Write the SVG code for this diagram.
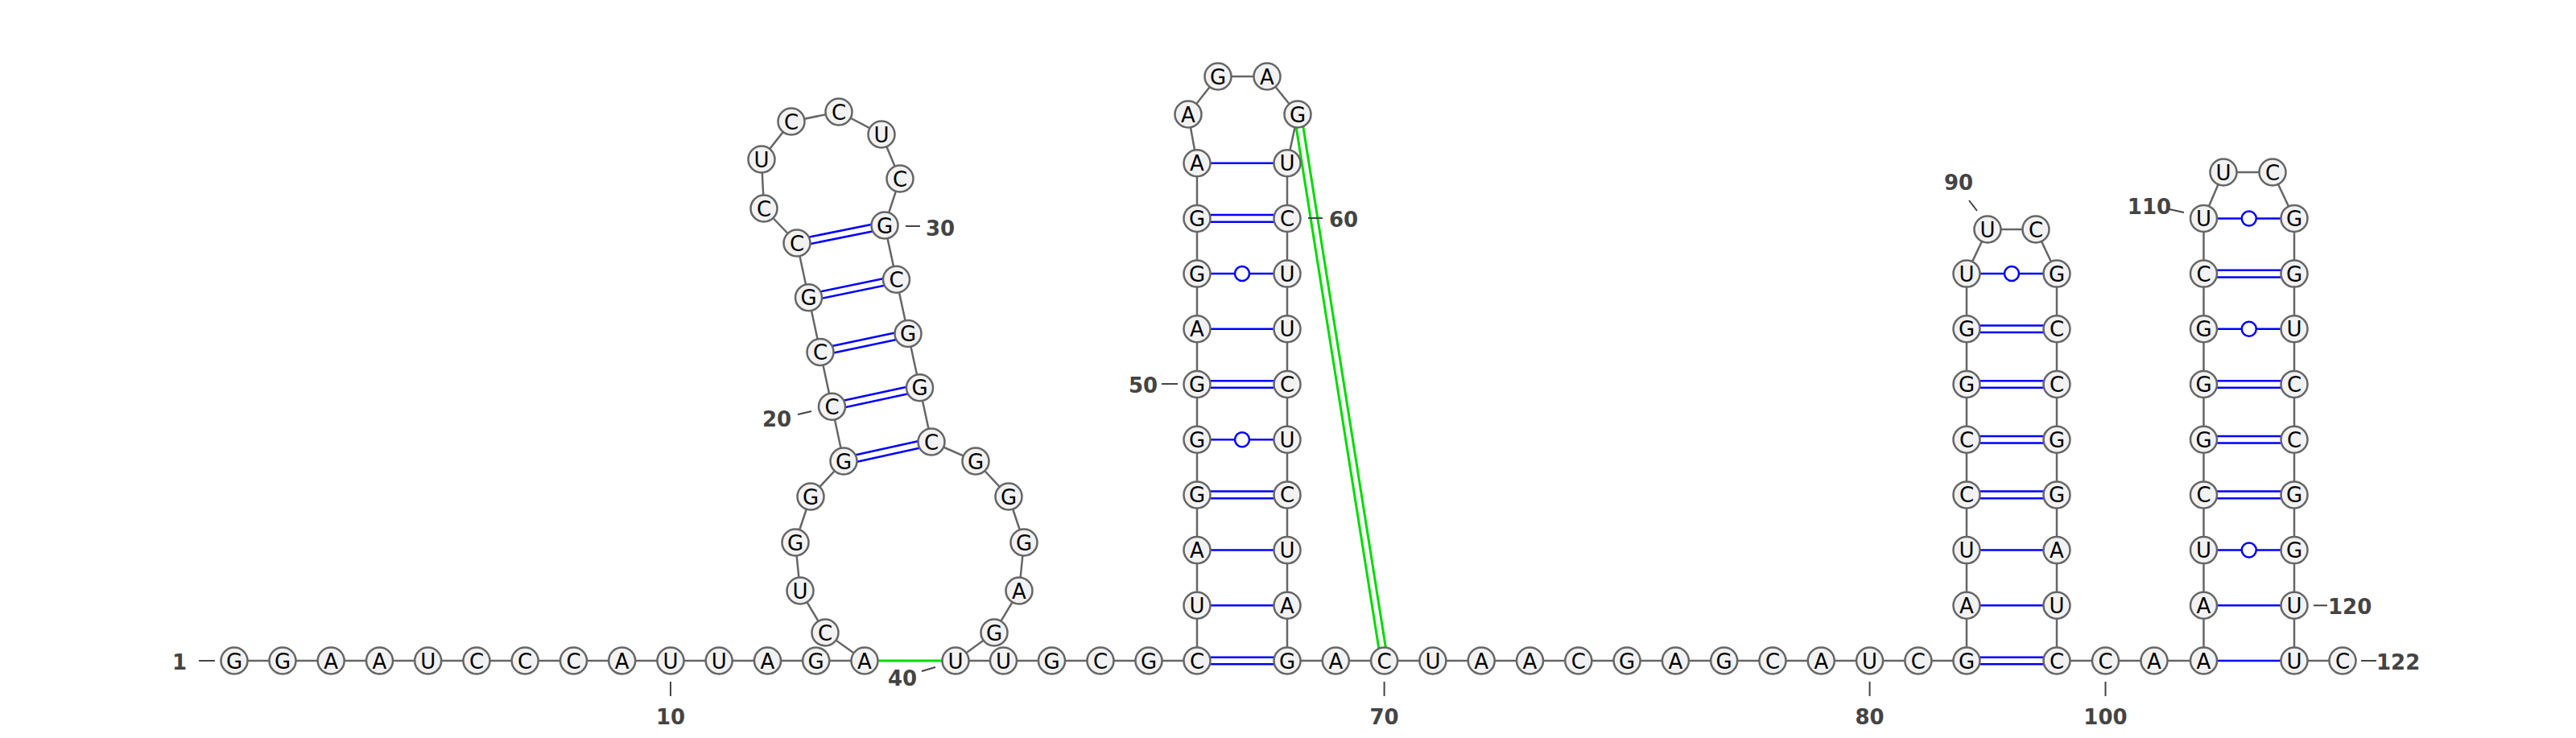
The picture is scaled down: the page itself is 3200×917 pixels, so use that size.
<svg xmlns="http://www.w3.org/2000/svg" width="3200" height="917" viewBox="0 0 3200 917">
<style>
.nt circle{fill:#f2f2f2;stroke:#666;stroke-width:2.5}
.nt text{font-family:"DejaVu Sans","Liberation Sans",sans-serif;font-size:26px;text-anchor:middle;fill:#000}
.bb{fill:none;stroke:#666;stroke-width:2.5}
.bp{fill:none;stroke:#0000ff;stroke-width:2.5}
.wb{fill:#fff;stroke:#0000ff;stroke-width:2.5}
.tp{fill:none;stroke:#00dd00;stroke-width:3}
.lbl{font-family:"DejaVu Sans","Liberation Sans",sans-serif;font-weight:bold;font-size:26px;fill:#444}
.tick{stroke:#444;stroke-width:2}
</style>
<rect width="3200" height="917" fill="#fff"/>
<g id="connectors">
<path class="bb" d="M291,821 L351,821 L411.2,821 L471.5,821 L531.7,821 L592,821 L652.2,821 L712.5,821 L772.7,821 L833,821 L893.2,821 L953.5,821 L1013.7,821 L1074,821 L1025,786 L994,734 L988,674 L1007,617 L1048,573 L1033.5,505.25 L1019,437.5 L1004.5,369.75 L990,302 L949,259 L946,198 L983,151 L1042,139 L1095,167 L1118,222 L1099,280 L1113.5,347.25 L1128,414.5 L1142.5,481.75 L1157,549 L1212,573 L1253,617 L1272,674 L1266,734 L1235,786 L1187,821 L1246.5,821 L1306.5,821 L1367,821 L1427,821 L1487,821 L1487,202.7 L1476,142 L1513,95 L1574,95 L1612,142 L1599,202.7 L1599,821 L2443,821 L2443,340.1 L2469,285 L2529,285 L2555,340.1 L2555,821 L2737.5,821 L2737.5,271.4 L2762,214 L2823,214 L2850,271.4 L2850,821 L2910,821"/>
<g id="pairs">
<line class="bp" x1="1048.9" y1="577.2" x2="1157.9" y2="553.2"/><line class="bp" x1="1047.1" y1="568.8" x2="1156.1" y2="544.8"/>
<line class="bp" x1="1034.4" y1="509.45" x2="1143.4" y2="485.95"/><line class="bp" x1="1032.6" y1="501.05" x2="1141.6" y2="477.55"/>
<line class="bp" x1="1019.9" y1="441.7" x2="1128.9" y2="418.7"/><line class="bp" x1="1018.1" y1="433.3" x2="1127.1" y2="410.3"/>
<line class="bp" x1="1005.4" y1="373.95" x2="1114.4" y2="351.45"/><line class="bp" x1="1003.6" y1="365.55" x2="1112.6" y2="343.05"/>
<line class="bp" x1="990.9" y1="306.2" x2="1099.9" y2="284.2"/><line class="bp" x1="989.1" y1="297.8" x2="1098.1" y2="275.8"/>
<path class="bp" d="M1487,816.7H1599M1487,825.3H1599 M1487,752.3H1599 M1487,683.6H1599 M1487,610.6H1599M1487,619.2H1599 M1487,546.2H1599 M1487,473.2H1599M1487,481.8H1599 M1487,408.8H1599 M1487,340.1H1599 M1487,267.1H1599M1487,275.7H1599 M1487,202.7H1599"/>
<circle class="wb" cx="1543" cy="546.2" r="9"/>
<circle class="wb" cx="1543" cy="340.1" r="9"/>
<path class="bp" d="M2443,816.7H2555M2443,825.3H2555 M2443,752.3H2555 M2443,683.6H2555 M2443,610.6H2555M2443,619.2H2555 M2443,541.9H2555M2443,550.5H2555 M2443,473.2H2555M2443,481.8H2555 M2443,404.5H2555M2443,413.1H2555 M2443,340.1H2555"/>
<circle class="wb" cx="2499" cy="340.1" r="9"/>
<path class="bp" d="M2737.5,821H2850 M2737.5,752.3H2850 M2737.5,683.6H2850 M2737.5,610.6H2850M2737.5,619.2H2850 M2737.5,541.9H2850M2737.5,550.5H2850 M2737.5,473.2H2850M2737.5,481.8H2850 M2737.5,408.8H2850 M2737.5,335.8H2850M2737.5,344.4H2850 M2737.5,271.4H2850"/>
<circle class="wb" cx="2793.75" cy="683.6" r="9"/>
<circle class="wb" cx="2793.75" cy="408.8" r="9"/>
<circle class="wb" cx="2793.75" cy="271.4" r="9"/>
</g>
<g id="tertiary">
<line class="tp" x1="1074" y1="821" x2="1187" y2="821"/>
<line class="tp" x1="1616.25" y1="141.33" x2="1723.85" y2="820.33"/>
<line class="tp" x1="1607.75" y1="142.67" x2="1715.35" y2="821.67"/>
</g>
</g>
<g id="n1" class="nt"><circle cx="291" cy="821" r="16.5"/><text x="291" y="830.5">G</text></g>
<g id="n2" class="nt"><circle cx="351" cy="821" r="16.5"/><text x="351" y="830.5">G</text></g>
<g id="n3" class="nt"><circle cx="411.2" cy="821" r="16.5"/><text x="411.2" y="830.5">A</text></g>
<g id="n4" class="nt"><circle cx="471.5" cy="821" r="16.5"/><text x="471.5" y="830.5">A</text></g>
<g id="n5" class="nt"><circle cx="531.7" cy="821" r="16.5"/><text x="531.7" y="830.5">U</text></g>
<g id="n6" class="nt"><circle cx="592" cy="821" r="16.5"/><text x="592" y="830.5">C</text></g>
<g id="n7" class="nt"><circle cx="652.2" cy="821" r="16.5"/><text x="652.2" y="830.5">C</text></g>
<g id="n8" class="nt"><circle cx="712.5" cy="821" r="16.5"/><text x="712.5" y="830.5">C</text></g>
<g id="n9" class="nt"><circle cx="772.7" cy="821" r="16.5"/><text x="772.7" y="830.5">A</text></g>
<g id="n10" class="nt"><circle cx="833" cy="821" r="16.5"/><text x="833" y="830.5">U</text></g>
<g id="n11" class="nt"><circle cx="893.2" cy="821" r="16.5"/><text x="893.2" y="830.5">U</text></g>
<g id="n12" class="nt"><circle cx="953.5" cy="821" r="16.5"/><text x="953.5" y="830.5">A</text></g>
<g id="n13" class="nt"><circle cx="1013.7" cy="821" r="16.5"/><text x="1013.7" y="830.5">G</text></g>
<g id="n14" class="nt"><circle cx="1074" cy="821" r="16.5"/><text x="1074" y="830.5">A</text></g>
<g id="n15" class="nt"><circle cx="1025" cy="786" r="16.5"/><text x="1025" y="795.5">C</text></g>
<g id="n16" class="nt"><circle cx="994" cy="734" r="16.5"/><text x="994" y="743.5">U</text></g>
<g id="n17" class="nt"><circle cx="988" cy="674" r="16.5"/><text x="988" y="683.5">G</text></g>
<g id="n18" class="nt"><circle cx="1007" cy="617" r="16.5"/><text x="1007" y="626.5">G</text></g>
<g id="n19" class="nt"><circle cx="1048" cy="573" r="16.5"/><text x="1048" y="582.5">G</text></g>
<g id="n20" class="nt"><circle cx="1033.5" cy="505.25" r="16.5"/><text x="1033.5" y="514.75">C</text></g>
<g id="n21" class="nt"><circle cx="1019" cy="437.5" r="16.5"/><text x="1019" y="447">C</text></g>
<g id="n22" class="nt"><circle cx="1004.5" cy="369.75" r="16.5"/><text x="1004.5" y="379.25">G</text></g>
<g id="n23" class="nt"><circle cx="990" cy="302" r="16.5"/><text x="990" y="311.5">C</text></g>
<g id="n24" class="nt"><circle cx="949" cy="259" r="16.5"/><text x="949" y="268.5">C</text></g>
<g id="n25" class="nt"><circle cx="946" cy="198" r="16.5"/><text x="946" y="207.5">U</text></g>
<g id="n26" class="nt"><circle cx="983" cy="151" r="16.5"/><text x="983" y="160.5">C</text></g>
<g id="n27" class="nt"><circle cx="1042" cy="139" r="16.5"/><text x="1042" y="148.5">C</text></g>
<g id="n28" class="nt"><circle cx="1095" cy="167" r="16.5"/><text x="1095" y="176.5">U</text></g>
<g id="n29" class="nt"><circle cx="1118" cy="222" r="16.5"/><text x="1118" y="231.5">C</text></g>
<g id="n30" class="nt"><circle cx="1099" cy="280" r="16.5"/><text x="1099" y="289.5">G</text></g>
<g id="n31" class="nt"><circle cx="1113.5" cy="347.25" r="16.5"/><text x="1113.5" y="356.75">C</text></g>
<g id="n32" class="nt"><circle cx="1128" cy="414.5" r="16.5"/><text x="1128" y="424">G</text></g>
<g id="n33" class="nt"><circle cx="1142.5" cy="481.75" r="16.5"/><text x="1142.5" y="491.25">G</text></g>
<g id="n34" class="nt"><circle cx="1157" cy="549" r="16.5"/><text x="1157" y="558.5">C</text></g>
<g id="n35" class="nt"><circle cx="1212" cy="573" r="16.5"/><text x="1212" y="582.5">G</text></g>
<g id="n36" class="nt"><circle cx="1253" cy="617" r="16.5"/><text x="1253" y="626.5">G</text></g>
<g id="n37" class="nt"><circle cx="1272" cy="674" r="16.5"/><text x="1272" y="683.5">G</text></g>
<g id="n38" class="nt"><circle cx="1266" cy="734" r="16.5"/><text x="1266" y="743.5">A</text></g>
<g id="n39" class="nt"><circle cx="1235" cy="786" r="16.5"/><text x="1235" y="795.5">G</text></g>
<g id="n40" class="nt"><circle cx="1187" cy="821" r="16.5"/><text x="1187" y="830.5">U</text></g>
<g id="n41" class="nt"><circle cx="1246.5" cy="821" r="16.5"/><text x="1246.5" y="830.5">U</text></g>
<g id="n42" class="nt"><circle cx="1306.5" cy="821" r="16.5"/><text x="1306.5" y="830.5">G</text></g>
<g id="n43" class="nt"><circle cx="1367" cy="821" r="16.5"/><text x="1367" y="830.5">C</text></g>
<g id="n44" class="nt"><circle cx="1427" cy="821" r="16.5"/><text x="1427" y="830.5">G</text></g>
<g id="n45" class="nt"><circle cx="1487" cy="821" r="16.5"/><text x="1487" y="830.5">C</text></g>
<g id="n46" class="nt"><circle cx="1487" cy="752.3" r="16.5"/><text x="1487" y="761.8">U</text></g>
<g id="n47" class="nt"><circle cx="1487" cy="683.6" r="16.5"/><text x="1487" y="693.1">A</text></g>
<g id="n48" class="nt"><circle cx="1487" cy="614.9" r="16.5"/><text x="1487" y="624.4">G</text></g>
<g id="n49" class="nt"><circle cx="1487" cy="546.2" r="16.5"/><text x="1487" y="555.7">G</text></g>
<g id="n50" class="nt"><circle cx="1487" cy="477.5" r="16.5"/><text x="1487" y="487">G</text></g>
<g id="n51" class="nt"><circle cx="1487" cy="408.8" r="16.5"/><text x="1487" y="418.3">A</text></g>
<g id="n52" class="nt"><circle cx="1487" cy="340.1" r="16.5"/><text x="1487" y="349.6">G</text></g>
<g id="n53" class="nt"><circle cx="1487" cy="271.4" r="16.5"/><text x="1487" y="280.9">G</text></g>
<g id="n54" class="nt"><circle cx="1487" cy="202.7" r="16.5"/><text x="1487" y="212.2">A</text></g>
<g id="n55" class="nt"><circle cx="1476" cy="142" r="16.5"/><text x="1476" y="151.5">A</text></g>
<g id="n56" class="nt"><circle cx="1513" cy="95" r="16.5"/><text x="1513" y="104.5">G</text></g>
<g id="n57" class="nt"><circle cx="1574" cy="95" r="16.5"/><text x="1574" y="104.5">A</text></g>
<g id="n58" class="nt"><circle cx="1612" cy="142" r="16.5"/><text x="1612" y="151.5">G</text></g>
<g id="n59" class="nt"><circle cx="1599" cy="202.7" r="16.5"/><text x="1599" y="212.2">U</text></g>
<g id="n60" class="nt"><circle cx="1599" cy="271.4" r="16.5"/><text x="1599" y="280.9">C</text></g>
<g id="n61" class="nt"><circle cx="1599" cy="340.1" r="16.5"/><text x="1599" y="349.6">U</text></g>
<g id="n62" class="nt"><circle cx="1599" cy="408.8" r="16.5"/><text x="1599" y="418.3">U</text></g>
<g id="n63" class="nt"><circle cx="1599" cy="477.5" r="16.5"/><text x="1599" y="487">C</text></g>
<g id="n64" class="nt"><circle cx="1599" cy="546.2" r="16.5"/><text x="1599" y="555.7">U</text></g>
<g id="n65" class="nt"><circle cx="1599" cy="614.9" r="16.5"/><text x="1599" y="624.4">C</text></g>
<g id="n66" class="nt"><circle cx="1599" cy="683.6" r="16.5"/><text x="1599" y="693.1">U</text></g>
<g id="n67" class="nt"><circle cx="1599" cy="752.3" r="16.5"/><text x="1599" y="761.8">A</text></g>
<g id="n68" class="nt"><circle cx="1599" cy="821" r="16.5"/><text x="1599" y="830.5">G</text></g>
<g id="n69" class="nt"><circle cx="1659.3" cy="821" r="16.5"/><text x="1659.3" y="830.5">A</text></g>
<g id="n70" class="nt"><circle cx="1719.6" cy="821" r="16.5"/><text x="1719.6" y="830.5">C</text></g>
<g id="n71" class="nt"><circle cx="1779.9" cy="821" r="16.5"/><text x="1779.9" y="830.5">U</text></g>
<g id="n72" class="nt"><circle cx="1840.2" cy="821" r="16.5"/><text x="1840.2" y="830.5">A</text></g>
<g id="n73" class="nt"><circle cx="1900.5" cy="821" r="16.5"/><text x="1900.5" y="830.5">A</text></g>
<g id="n74" class="nt"><circle cx="1960.8" cy="821" r="16.5"/><text x="1960.8" y="830.5">C</text></g>
<g id="n75" class="nt"><circle cx="2021.1" cy="821" r="16.5"/><text x="2021.1" y="830.5">G</text></g>
<g id="n76" class="nt"><circle cx="2081.4" cy="821" r="16.5"/><text x="2081.4" y="830.5">A</text></g>
<g id="n77" class="nt"><circle cx="2141.7" cy="821" r="16.5"/><text x="2141.7" y="830.5">G</text></g>
<g id="n78" class="nt"><circle cx="2202" cy="821" r="16.5"/><text x="2202" y="830.5">C</text></g>
<g id="n79" class="nt"><circle cx="2262.3" cy="821" r="16.5"/><text x="2262.3" y="830.5">A</text></g>
<g id="n80" class="nt"><circle cx="2322.6" cy="821" r="16.5"/><text x="2322.6" y="830.5">U</text></g>
<g id="n81" class="nt"><circle cx="2382.9" cy="821" r="16.5"/><text x="2382.9" y="830.5">C</text></g>
<g id="n82" class="nt"><circle cx="2443" cy="821" r="16.5"/><text x="2443" y="830.5">G</text></g>
<g id="n83" class="nt"><circle cx="2443" cy="752.3" r="16.5"/><text x="2443" y="761.8">A</text></g>
<g id="n84" class="nt"><circle cx="2443" cy="683.6" r="16.5"/><text x="2443" y="693.1">U</text></g>
<g id="n85" class="nt"><circle cx="2443" cy="614.9" r="16.5"/><text x="2443" y="624.4">C</text></g>
<g id="n86" class="nt"><circle cx="2443" cy="546.2" r="16.5"/><text x="2443" y="555.7">C</text></g>
<g id="n87" class="nt"><circle cx="2443" cy="477.5" r="16.5"/><text x="2443" y="487">G</text></g>
<g id="n88" class="nt"><circle cx="2443" cy="408.8" r="16.5"/><text x="2443" y="418.3">G</text></g>
<g id="n89" class="nt"><circle cx="2443" cy="340.1" r="16.5"/><text x="2443" y="349.6">U</text></g>
<g id="n90" class="nt"><circle cx="2469" cy="285" r="16.5"/><text x="2469" y="294.5">U</text></g>
<g id="n91" class="nt"><circle cx="2529" cy="285" r="16.5"/><text x="2529" y="294.5">C</text></g>
<g id="n92" class="nt"><circle cx="2555" cy="340.1" r="16.5"/><text x="2555" y="349.6">G</text></g>
<g id="n93" class="nt"><circle cx="2555" cy="408.8" r="16.5"/><text x="2555" y="418.3">C</text></g>
<g id="n94" class="nt"><circle cx="2555" cy="477.5" r="16.5"/><text x="2555" y="487">C</text></g>
<g id="n95" class="nt"><circle cx="2555" cy="546.2" r="16.5"/><text x="2555" y="555.7">G</text></g>
<g id="n96" class="nt"><circle cx="2555" cy="614.9" r="16.5"/><text x="2555" y="624.4">G</text></g>
<g id="n97" class="nt"><circle cx="2555" cy="683.6" r="16.5"/><text x="2555" y="693.1">A</text></g>
<g id="n98" class="nt"><circle cx="2555" cy="752.3" r="16.5"/><text x="2555" y="761.8">U</text></g>
<g id="n99" class="nt"><circle cx="2555" cy="821" r="16.5"/><text x="2555" y="830.5">C</text></g>
<g id="n100" class="nt"><circle cx="2615.5" cy="821" r="16.5"/><text x="2615.5" y="830.5">C</text></g>
<g id="n101" class="nt"><circle cx="2676" cy="821" r="16.5"/><text x="2676" y="830.5">A</text></g>
<g id="n102" class="nt"><circle cx="2737.5" cy="821" r="16.5"/><text x="2737.5" y="830.5">A</text></g>
<g id="n103" class="nt"><circle cx="2737.5" cy="752.3" r="16.5"/><text x="2737.5" y="761.8">A</text></g>
<g id="n104" class="nt"><circle cx="2737.5" cy="683.6" r="16.5"/><text x="2737.5" y="693.1">U</text></g>
<g id="n105" class="nt"><circle cx="2737.5" cy="614.9" r="16.5"/><text x="2737.5" y="624.4">C</text></g>
<g id="n106" class="nt"><circle cx="2737.5" cy="546.2" r="16.5"/><text x="2737.5" y="555.7">G</text></g>
<g id="n107" class="nt"><circle cx="2737.5" cy="477.5" r="16.5"/><text x="2737.5" y="487">G</text></g>
<g id="n108" class="nt"><circle cx="2737.5" cy="408.8" r="16.5"/><text x="2737.5" y="418.3">G</text></g>
<g id="n109" class="nt"><circle cx="2737.5" cy="340.1" r="16.5"/><text x="2737.5" y="349.6">C</text></g>
<g id="n110" class="nt"><circle cx="2737.5" cy="271.4" r="16.5"/><text x="2737.5" y="280.9">U</text></g>
<g id="n111" class="nt"><circle cx="2762" cy="214" r="16.5"/><text x="2762" y="223.5">U</text></g>
<g id="n112" class="nt"><circle cx="2823" cy="214" r="16.5"/><text x="2823" y="223.5">C</text></g>
<g id="n113" class="nt"><circle cx="2850" cy="271.4" r="16.5"/><text x="2850" y="280.9">G</text></g>
<g id="n114" class="nt"><circle cx="2850" cy="340.1" r="16.5"/><text x="2850" y="349.6">G</text></g>
<g id="n115" class="nt"><circle cx="2850" cy="408.8" r="16.5"/><text x="2850" y="418.3">U</text></g>
<g id="n116" class="nt"><circle cx="2850" cy="477.5" r="16.5"/><text x="2850" y="487">C</text></g>
<g id="n117" class="nt"><circle cx="2850" cy="546.2" r="16.5"/><text x="2850" y="555.7">C</text></g>
<g id="n118" class="nt"><circle cx="2850" cy="614.9" r="16.5"/><text x="2850" y="624.4">G</text></g>
<g id="n119" class="nt"><circle cx="2850" cy="683.6" r="16.5"/><text x="2850" y="693.1">G</text></g>
<g id="n120" class="nt"><circle cx="2850" cy="752.3" r="16.5"/><text x="2850" y="761.8">U</text></g>
<g id="n121" class="nt"><circle cx="2850" cy="821" r="16.5"/><text x="2850" y="830.5">U</text></g>
<g id="n122" class="nt"><circle cx="2910" cy="821" r="16.5"/><text x="2910" y="830.5">C</text></g>
<g id="labels">
<line class="tick" x1="247" y1="821" x2="267" y2="821"/><text class="lbl" x="223" y="832" text-anchor="middle">1</text>
<line class="tick" x1="833" y1="847" x2="833" y2="865"/><text class="lbl" x="833" y="900" text-anchor="middle">10</text>
<line class="tick" x1="991" y1="515" x2="1008" y2="511"/><text class="lbl" x="965" y="530" text-anchor="middle">20</text>
<line class="tick" x1="1125" y1="281" x2="1143" y2="281"/><text class="lbl" x="1168" y="293" text-anchor="middle">30</text>
<line class="tick" x1="1145" y1="834" x2="1162" y2="829"/><text class="lbl" x="1121" y="852" text-anchor="middle">40</text>
<line class="tick" x1="1443" y1="477" x2="1463" y2="477"/><text class="lbl" x="1420" y="488" text-anchor="middle">50</text>
<line class="tick" x1="1625" y1="271" x2="1643" y2="271"/><text class="lbl" x="1669" y="282" text-anchor="middle">60</text>
<line class="tick" x1="1719.6" y1="847" x2="1719.6" y2="865"/><text class="lbl" x="1719.6" y="900" text-anchor="middle">70</text>
<line class="tick" x1="2322.6" y1="847" x2="2322.6" y2="865"/><text class="lbl" x="2322.6" y="900" text-anchor="middle">80</text>
<line class="tick" x1="2446" y1="249" x2="2456" y2="262"/><text class="lbl" x="2433" y="236" text-anchor="middle">90</text>
<line class="tick" x1="2615.5" y1="847" x2="2615.5" y2="865"/><text class="lbl" x="2615.5" y="900" text-anchor="middle">100</text>
<line class="tick" x1="2695" y1="260" x2="2713" y2="264"/><text class="lbl" x="2670" y="266" text-anchor="middle">110</text>
<line class="tick" x1="2874" y1="752.3" x2="2891" y2="752.3"/><text class="lbl" x="2892" y="763" text-anchor="start">120</text>
<line class="tick" x1="2933" y1="821" x2="2952" y2="821"/><text class="lbl" x="2952" y="832" text-anchor="start">122</text>
</g>
</svg>
